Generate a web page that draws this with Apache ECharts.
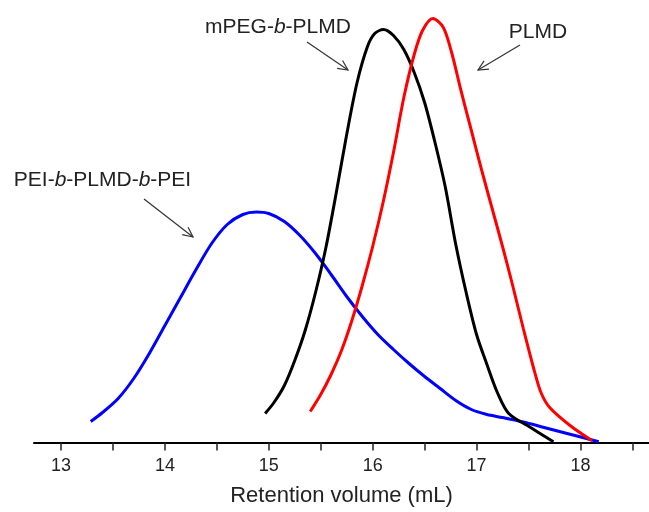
<!DOCTYPE html>
<html>
<head>
<meta charset="utf-8">
<script src="https://cdn.jsdelivr.net/npm/echarts@6/dist/echarts.min.js"></script>
<style>html,body{margin:0;padding:0;background:#fff;}#c{width:649px;height:512px;}</style>
</head>
<body>
<div id="c"></div>
<script>
// Retention volume (mL) and detector signal (arbitrary units)
const peiX = [13.286,13.4,13.55,13.7,13.85,14.0,14.15,14.3,14.45,14.6,14.75,14.88,15.0,15.15,15.3,15.45,15.6,15.75,15.9,16.05,16.2,16.35,16.5,16.65,16.8,16.95,17.1,17.25,17.45,17.65,17.872,18.176];
const peiY = [21,30,44,64,89,117,145,173,199,218,228,230.5,229,221,207,189,168,146,126,108,93,79,66,54,42,33,28,25,20.5,15,9,0.8];

const mpegX = [14.965,15.05,15.15,15.25,15.35,15.45,15.55,15.65,15.75,15.85,15.95,16.02,16.105,16.2,16.3,16.4,16.5,16.6,16.7,16.8,16.9,17.0,17.1,17.2,17.31,17.52,17.74];
const mpegY = [29,40,57,82,112,150,195,250,308,360,396,409,413,407,393,370,340,300,255,198,150,108,78,50,29,15,0.8];

const plmdX = [15.399,15.5,15.6,15.7,15.8,15.9,16.0,16.1,16.2,16.3,16.4,16.48,16.58,16.68,16.76,16.85,16.95,17.05,17.15,17.25,17.35,17.45,17.55,17.62,17.704,17.9,18.112];
const plmdY = [31,48,68,92,122,157,196,240,290,345,388,412,424,415,390,352,312,272,234,196,156,114,74,50,35,17,1.8];

const labelTicks = [13,14,15,16,17,18];
const minorTicks = [13,13.5,14,14.5,15,15.5,16,16.5,17,17.5,18,18.5];

function pairs(xs, ys){ return xs.map((x,i)=>[x, ys[i]]); }

function arrow(x1,y1,x2,y2){
  const a = Math.atan2(y2-y1, x2-x1), L = 11, w = 0.45;
  const p1 = [x2 - L*Math.cos(a-w), y2 - L*Math.sin(a-w)];
  const p2 = [x2 - L*Math.cos(a+w), y2 - L*Math.sin(a+w)];
  const st = {stroke:'#333', lineWidth:1.2, fill:null};
  return [
    {type:'line', shape:{x1:x1,y1:y1,x2:x2,y2:y2}, style:st, silent:true},
    {type:'polyline', shape:{points:[p1,[x2,y2],p2]}, style:st, silent:true}
  ];
}

const FONT = '"Liberation Sans", Arial, sans-serif';
const rich = {
  n:{fontSize:21, fontFamily:FONT, fill:'#222'},
  i:{fontSize:21, fontFamily:FONT, fontStyle:'italic', fill:'#222'}
};
function label(x,y,text){
  return {type:'text', x:x, y:y, silent:true,
    style:{text:text, rich:rich, align:'center', verticalAlign:'middle', fontSize:21, fontFamily:FONT, fill:'#222'}};
}

const chart = echarts.init(document.getElementById('c'), null, {renderer:'canvas'});
chart.setOption({
  animation:false,
  backgroundColor:'#fff',
  grid:{left:34, right:0, top:10, bottom:69.5},
  xAxis:{
    type:'value', min:12.74, max:18.66,
    name:'Retention volume (mL)', nameLocation:'middle', nameGap:42,
    nameTextStyle:{fontSize:22, fontFamily:FONT, color:'#222'},
    axisLine:{show:true, lineStyle:{color:'#000', width:2}},
    axisTick:{show:true, length:8, customValues:minorTicks, lineStyle:{color:'#222', width:1.5}},
    axisLabel:{customValues:labelTicks, margin:15, fontSize:18, fontFamily:FONT, color:'#222'},
    splitLine:{show:false}
  },
  yAxis:{type:'value', min:0, max:432.5, show:false, splitLine:{show:false}},
  series:[
    {type:'line', data:pairs(peiX,peiY), smooth:0.3, symbol:'none', lineStyle:{color:'#0000ff', width:3}},
    {type:'line', data:pairs(mpegX,mpegY), smooth:0.3, symbol:'none', lineStyle:{color:'#000000', width:3}},
    {type:'line', data:pairs(plmdX,plmdY), smooth:0.3, symbol:'none', lineStyle:{color:'#ff0000', width:3}}
  ],
  graphic:[
    label(278, 27, '{n|mPEG-}{i|b}{n|-PLMD}'),
    label(538, 32, '{n|PLMD}'),
    label(102.5, 180, '{n|PEI-}{i|b}{n|-PLMD-}{i|b}{n|-PEI}')
  ].concat(arrow(307,42,348,70), arrow(520,45,478,70), arrow(144,199,193,237))
});
</script>
</body>
</html>
